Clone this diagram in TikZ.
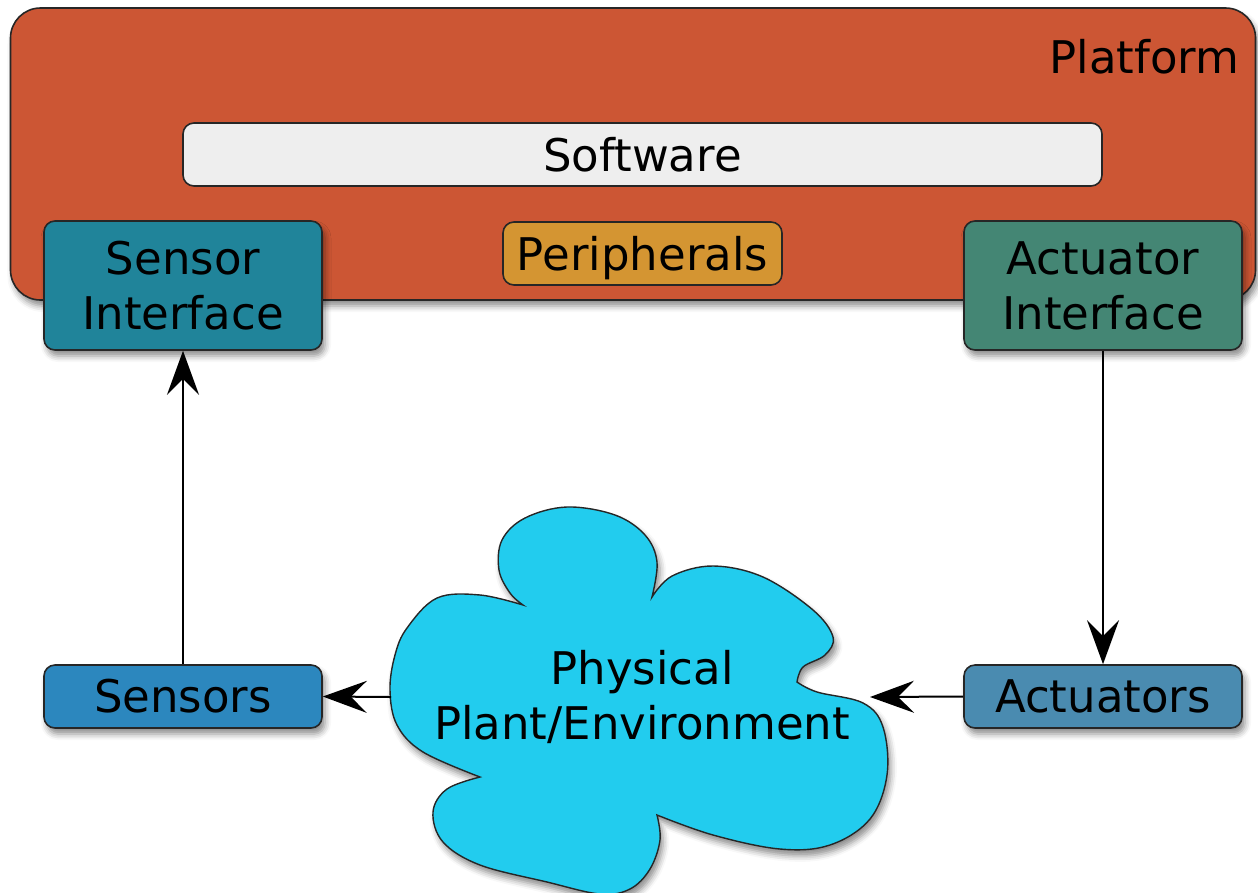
\documentclass[tikz,border=0pt]{standalone}
\usepackage{fontspec}
\setmainfont{DejaVu Sans}
\usetikzlibrary{arrows.meta,shadows.blur}
\definecolor{platformred}{RGB}{204,86,52}
\definecolor{softgray}{RGB}{238,238,238}
\definecolor{periphorange}{RGB}{212,149,50}
\definecolor{sensteal}{RGB}{32,132,154}
\definecolor{actgreen}{RGB}{68,134,116}
\definecolor{sensblue}{RGB}{44,135,190}
\definecolor{actblue}{RGB}{74,139,176}
\definecolor{cloudcyan}{RGB}{34,204,238}

\begin{document}
\begin{tikzpicture}[x=1pt,y=-1pt,>={Stealth[length=44pt,width=32pt,inset=16pt,fill=black]},
  font=\fontsize{45}{55}\selectfont,
  lifted/.style={blur shadow={shadow xshift=3pt,shadow yshift=-6pt,shadow blur radius=6pt,shadow opacity=45}},
  box/.style={draw=black!85,line width=1.6pt,rounded corners=11pt,inner sep=0pt,align=center},
  flow/.style={->,draw=black,line width=2pt}]
\useasboundingbox (0,0) rectangle (1258,892);
% platform and what sits on it
\node[box,lifted,fill=platformred,minimum width=1245pt,minimum height=292pt,rounded corners=30pt](platform)at(633,154){};
\node[anchor=base east](platformlbl)at(1243,73){Platform};
\node[box,fill=softgray,minimum width=919pt,minimum height=63pt](software)at(642.5,154.5){Software};
\node[box,fill=periphorange,minimum width=279pt,minimum height=63pt,text depth=0pt](periph)at(642.5,253.5){Peripherals};
\node[box,lifted,fill=sensteal,minimum width=278pt,minimum height=129pt](sensorif)at(183,285.5){Sensor\\Interface};
\node[box,lifted,fill=actgreen,minimum width=278pt,minimum height=129pt](actuatorif)at(1103,285.5){Actuator\\Interface};
\node[box,lifted,fill=sensblue,minimum width=278pt,minimum height=63pt](sensors)at(183,696.5){Sensors};
\node[box,lifted,fill=actblue,minimum width=278pt,minimum height=63pt](actuators)at(1103,696.5){Actuators};
% the cloud, one smooth piece per lobe
\filldraw[lifted,fill=cloudcyan,draw=black!85,line width=1.4pt]
  plot[smooth,tension=.6]coordinates{(523,605)(510,593)(499,570)(502,540)(525,518)(567,507)(615,515)(645,535)(657,562)(652,597)}
  --plot[smooth,tension=.6]coordinates{(652,597)(672,576)(713,566)(763,577)(813,610)(833,637)(825,655)(803,667)(797,682)}
  --plot[smooth,tension=.6]coordinates{(797,682)(817,692)(863,703)(883,727)(887,775)(870,819)(830,845)(780,849)(713,835)(657,815)}
  --plot[smooth,tension=.6]coordinates{(657,815)(660,840)(650,869)(630,889)(600,894)(547,882)(480,865)(443,842)(433,812)(447,789)(480,777)}
  --plot[smooth,tension=.6]coordinates{(480,777)(423,752)(397,725)(390,690)(395,655)(407,628)(437,598)(480,595)(523,605)}--cycle;
\node[align=center](plant)at(642,697){Physical\\Plant/Environment};
\coordinate(plantW)at(391,697);
\coordinate(plantE)at(870,697);
\draw[flow](sensors.north)--(sensorif.south);
\draw[flow](actuatorif.south)--(actuators.north);
\draw[flow](plantW)--(sensors.east);
\draw[flow](actuators.west)--(plantE);
\end{tikzpicture}
\end{document}
